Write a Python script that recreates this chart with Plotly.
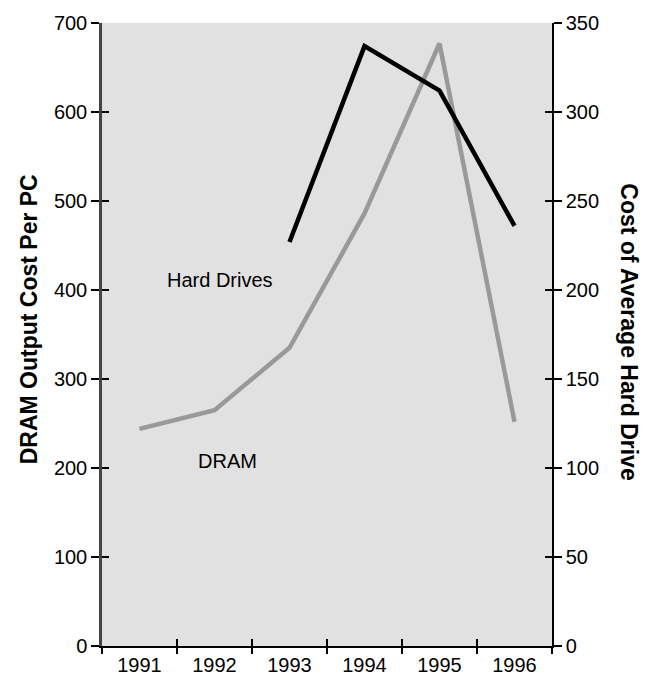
import plotly.graph_objects as go

years = [1991, 1992, 1993, 1994, 1995, 1996]
dram_cost = [244, 265, 335, 486, 677, 252]
hd_years = [1993, 1994, 1995, 1996]
hd_cost = [227, 337, 312, 236]
left_ticks = [0, 100, 200, 300, 400, 500, 600, 700]
right_ticks = [0, 50, 100, 150, 200, 250, 300, 350]
boundaries = [1990.5, 1991.5, 1992.5, 1993.5, 1994.5, 1995.5, 1996.5]

FONT = "Liberation Sans, Arial, sans-serif"

fig = go.Figure()
fig.add_trace(go.Scatter(x=years, y=dram_cost, mode="lines", xaxis="x", yaxis="y",
                         line=dict(color="#999999", width=4.5), showlegend=False))
fig.add_trace(go.Scatter(x=hd_years, y=hd_cost, mode="lines", xaxis="x", yaxis="y2",
                         line=dict(color="#000000", width=4.5), showlegend=False))

common = dict(showgrid=False, zeroline=False)
fig.update_layout(
    width=652, height=688,
    margin=dict(l=102, r=100, t=15, b=41),
    paper_bgcolor="white", plot_bgcolor="#e1e1e1",
    font=dict(family=FONT, size=20, color="black"),
    xaxis=dict(range=[1990.5, 1996.5], tickvals=years, ticktext=[str(y) for y in years],
               ticks="", showline=True, linecolor="black", linewidth=1.5, **common),
    xaxis2=dict(overlaying="x", range=[1990.5, 1996.5], tickvals=boundaries, ticks="outside",
                ticklen=7, tickwidth=1.5, tickcolor="black", showticklabels=False,
                showline=False, anchor="y", **common),
    xaxis3=dict(overlaying="x", range=[1990.5, 1996.5], tickvals=boundaries, ticks="inside",
                ticklen=7, tickwidth=1.5, tickcolor="black", showticklabels=False,
                showline=False, anchor="y", **common),
    yaxis=dict(range=[0, 700], tickvals=left_ticks, ticks="outside", ticklen=8, tickwidth=1.5,
               tickcolor="black", showline=True, linecolor="#444444", linewidth=2.5, **common),
    yaxis2=dict(range=[0, 350], tickvals=right_ticks, overlaying="y", side="right", anchor="x",
                ticks="outside", ticklen=8, tickwidth=1.5, tickcolor="black",
                showline=True, linecolor="black", linewidth=1.5, **common),
    yaxis3=dict(range=[0, 700], tickvals=left_ticks, overlaying="y", side="left", anchor="x",
                ticks="inside", ticklen=7, tickwidth=1.5, tickcolor="black",
                showticklabels=False, showline=False, **common),
    yaxis4=dict(range=[0, 350], tickvals=right_ticks, overlaying="y", side="right", anchor="x",
                ticks="inside", ticklen=7, tickwidth=1.5, tickcolor="black",
                showticklabels=False, showline=False, **common),
)

# invisible traces to activate overlay axes
fig.add_trace(go.Scatter(x=[None], y=[None], xaxis="x2", yaxis="y3", showlegend=False, hoverinfo="skip"))
fig.add_trace(go.Scatter(x=[None], y=[None], xaxis="x3", yaxis="y4", showlegend=False, hoverinfo="skip"))

fig.add_annotation(x=1992.07, y=411, xref="x", yref="y", text="Hard Drives", showarrow=False,
                   font=dict(family=FONT, size=20, color="black"))
fig.add_annotation(x=1992.17, y=208, xref="x", yref="y", text="DRAM", showarrow=False,
                   font=dict(family=FONT, size=20, color="black"))
fig.add_annotation(x=-0.128, y=0.525, xref="paper", yref="paper", text="<b>DRAM Output Cost Per PC</b>",
                   xanchor="right", textangle=-90, showarrow=False,
                   font=dict(family=FONT, size=23, color="black"))
fig.add_annotation(x=1.138, y=0.505, xref="paper", yref="paper", text="<b>Cost of Average Hard Drive</b>",
                   xanchor="left", textangle=90, showarrow=False,
                   font=dict(family=FONT, size=23, color="black"))

fig.write_html("out.html")
